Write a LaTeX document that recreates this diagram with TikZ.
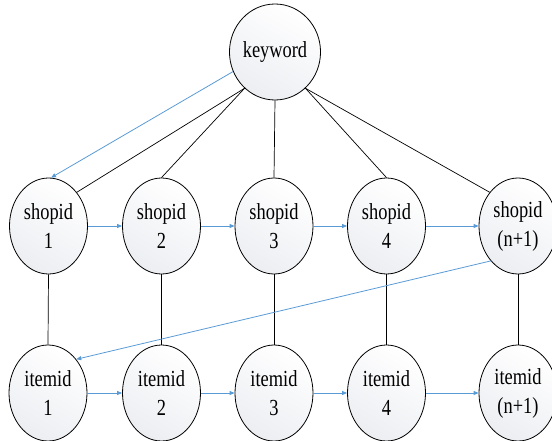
\documentclass[tikz,border=0pt]{standalone}
\usepackage{fontspec}
\setmainfont{Liberation Serif}[FakeStretch=0.8]
\usetikzlibrary{shapes.geometric,arrows.meta}
\definecolor{arrowblue}{RGB}{91,155,213}
\definecolor{nodefill}{RGB}{236,238,242}
\begin{document}
\begin{tikzpicture}[x=1pt,y=-1pt,
  ent/.style={ellipse,draw=black,line width=0.8pt,minimum width=78pt,minimum height=96pt,inner sep=0pt,
    shading=axis,top color=white,bottom color=nodefill,shading angle=-30,
    align=center,font=\fontsize{23}{29}\selectfont},
  link/.style={draw=black,line width=0.7pt},
  flow/.style={draw=arrowblue,line width=0.8pt,-{Triangle[length=5pt,width=4pt]}}]
\useasboundingbox (0,0) rectangle (552,441);
\node[ent] (kw) at (275,52) {keyword};
\node[ent] (s1) at (48.5,226) {shopid\\1};
\node[ent] (s2) at (161.5,226) {shopid\\2};
\node[ent] (s3) at (274,226) {shopid\\3};
\node[ent] (s4) at (386.5,226) {shopid\\4};
\node[ent] (s5) at (518,226) {shopid\\(n+1)};
\node[ent] (i1) at (48,393) {itemid\\1};
\node[ent] (i2) at (161.5,393) {itemid\\2};
\node[ent] (i3) at (274,393) {itemid\\3};
\node[ent] (i4) at (386.5,393) {itemid\\4};
\node[ent] (i5) at (518,393) {itemid\\(n+1)};
\draw[link] (kw.230) -- (s1.50);
\draw[link] (kw.230) -- (s2.north);
\draw[link] (kw.south) -- (s3.north);
\draw[link] (kw.310) -- (s4.north);
\draw[link] (kw.310) -- (s5.130);
\foreach \k in {1,...,5} {\draw[link] (s\k.south) -- (i\k.north);}
\draw[flow] (kw.205) -- (s1.87);
\draw[flow] (s1.east) -- (s2.west);
\draw[flow] (s2.east) -- (s3.west);
\draw[flow] (s3.east) -- (s4.west);
\draw[flow] (s4.east) -- (s5.west);
\draw[flow] (s5.232) -- (i1.50);
\draw[flow] (i1.east) -- (i2.west);
\draw[flow] (i2.east) -- (i3.west);
\draw[flow] (i3.east) -- (i4.west);
\draw[flow] (i4.east) -- (i5.west);
\end{tikzpicture}
\end{document}
